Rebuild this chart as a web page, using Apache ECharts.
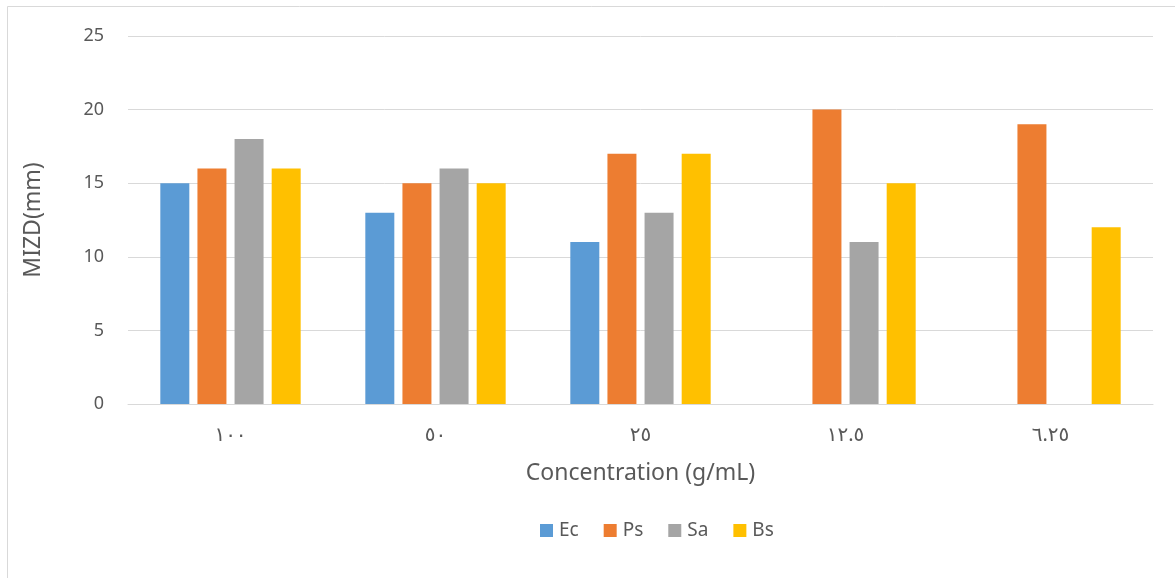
<!DOCTYPE html>
<html>
<head>
<meta charset="utf-8">
<script src="https://cdn.jsdelivr.net/npm/echarts@6/dist/echarts.min.js"></script>
<style>
  html, body { margin: 0; padding: 0; background: #ffffff; }
  #chart { width: 1175px; height: 578px; }
</style>
</head>
<body>
<div id="chart"></div>
<script>
// Concentration levels (Arabic-Indic numerals) and inhibition zone diameters
const categories = ['١٠٠', '٥٠', '٢٥', '١٢.٥', '٦.٢٥'];
const ecValues = [15, 13, 11, null, null];
const psValues = [16, 15, 17, 20, 19];
const saValues = [18, 16, 13, 11, null];
const bsValues = [16, 15, 17, 15, 12];
const yTicks = [0, 5, 10, 15, 20, 25];

const seriesDefs = [
  { name: 'Ec', data: ecValues, color: '#5B9BD5' },
  { name: 'Ps', data: psValues, color: '#ED7D31' },
  { name: 'Sa', data: saValues, color: '#A5A5A5' },
  { name: 'Bs', data: bsValues, color: '#FFC000' }
];

const font = '"Noto Sans", "DejaVu Sans", sans-serif';
const textColor = '#595959';

const chart = echarts.init(document.getElementById('chart'), null, { renderer: 'canvas' });
chart.setOption({
  animation: false,
  backgroundColor: '#ffffff',
  graphic: [{
    type: 'rect',
    shape: { x: 7.5, y: 6.5, width: 1180, height: 600 },
    style: { fill: 'none', stroke: '#d9d9d9', lineWidth: 1 },
    silent: true
  }],
  grid: { left: 128, right: 22, top: 36, bottom: 174, containLabel: false },
  legend: {
    data: seriesDefs.map(s => s.name),
    top: 516,
    left: 535,
    itemWidth: 13,
    itemHeight: 13,
    itemGap: 25,
    icon: 'rect',
    textStyle: { color: textColor, fontSize: 19, fontFamily: font, padding: [0, 0, 0, 1] }
  },
  xAxis: {
    type: 'category',
    data: categories,
    name: 'Concentration (g/mL)',
    nameLocation: 'middle',
    nameGap: 58,
    nameTextStyle: { color: textColor, fontSize: 23, fontFamily: font },
    axisLine: { lineStyle: { color: '#d9d9d9', width: 1 } },
    axisTick: { show: false },
    axisLabel: { color: textColor, fontSize: 20, fontFamily: font, margin: 21 }
  },
  yAxis: {
    type: 'value',
    min: yTicks[0],
    max: yTicks[yTicks.length - 1],
    interval: 5,
    name: 'MIZD(mm)',
    nameLocation: 'middle',
    nameGap: 83,
    nameRotate: 90,
    nameTextStyle: { color: textColor, fontSize: 23, fontFamily: font },
    axisLine: { show: false },
    axisTick: { show: false },
    axisLabel: { color: textColor, fontSize: 18, fontFamily: font, margin: 24 },
    splitLine: { lineStyle: { color: '#d9d9d9', width: 1 } }
  },
  series: seriesDefs.map(s => ({
    name: s.name,
    type: 'bar',
    data: s.data,
    barWidth: 29,
    barGap: '28%',
    itemStyle: { color: s.color }
  }))
});
</script>
</body>
</html>
